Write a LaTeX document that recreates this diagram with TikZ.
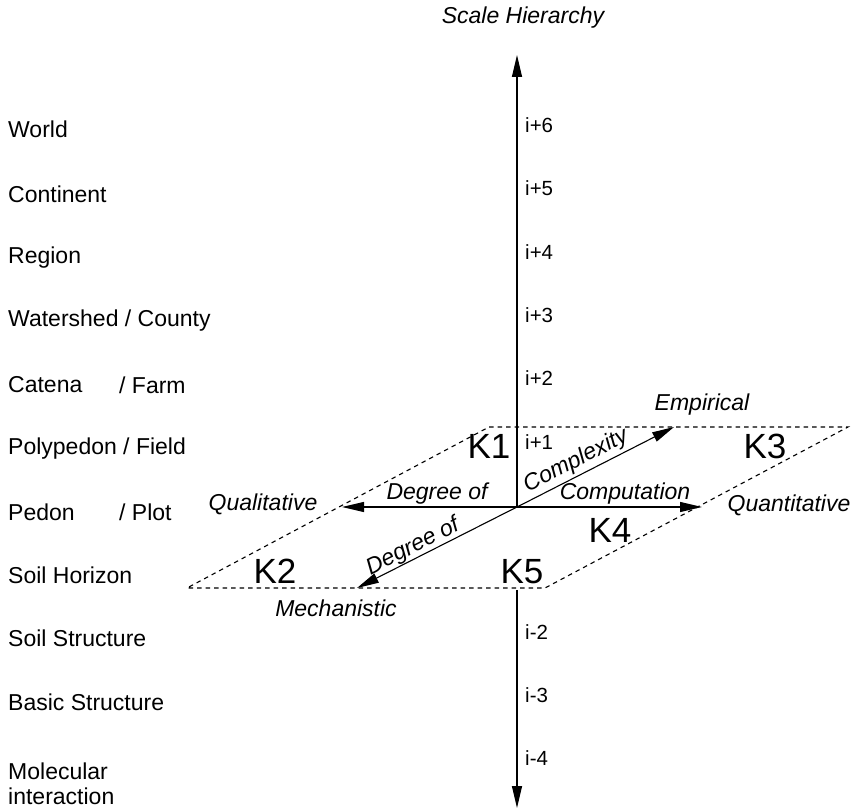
\documentclass[tikz,border=0pt]{standalone}
\usepackage{fontspec}
\setmainfont{Liberation Sans}
\usetikzlibrary{arrows.meta}

\begin{document}
\begin{tikzpicture}[x=1pt,y=-1pt,
  level/.style={font=\fontsize{23}{25}\selectfont, inner sep=0pt, anchor=west},
  idx/.style={font=\fontsize{20.5}{23}\selectfont, inner sep=0pt, anchor=west},
  pole/.style={font=\itshape\fontsize{23}{25}\selectfont, inner sep=0pt},
  klab/.style={font=\fontsize{35}{38}\selectfont, inner sep=0pt},
  axis/.style={line width=1.3pt, -{Triangle[length=22pt,width=10pt]}},
  plane/.style={line width=1.1pt, dash pattern=on 4.5pt off 4pt}]

\useasboundingbox (0,0) rectangle (852,810);

% axis end points and the model plane
\coordinate (c) at (517,507);
\coordinate (top) at (517,55);
\coordinate (bstart) at (517,590);
\coordinate (bot) at (517,808);
\coordinate (qual) at (342,507);
\coordinate (quant) at (702,507);
\coordinate (emp) at (674,427);
\coordinate (mech) at (357,588);
\coordinate (p1) at (489,427);
\coordinate (p2) at (848,427);
\coordinate (p3) at (545,588);
\coordinate (p4) at (187,588);

\draw[plane] (p1) -- (p2) -- (p3) -- (p4) -- cycle;

% scale hierarchy axis
\draw[axis] (c) -- (top);
\draw[axis] (bstart) -- (bot);
\node[pole] (sh) at (523,18) {Scale Hierarchy};

% degree of computation / complexity axes
\draw[axis, line width=1.1pt] (c) -- (qual);
\draw[axis, line width=1.1pt] (c) -- (quant);
\draw[axis, line width=1.1pt] (c) -- (emp);
\draw[axis, line width=1.1pt] (c) -- (mech);

\node[pole] (dg1) at (437,494) {Degree of};
\node[pole] (cmp) at (625,494) {Computation};
\node[pole, rotate=26.9] (cx) at (576,461) {Complexity};
\node[pole, rotate=26.9] (dg2) at (413,547) {Degree of};

\node[pole] (lq) at (263,504) {Qualitative};
\node[pole] (rq) at (789,505) {Quantitative};
\node[pole] (em) at (702,405) {Empirical};
\node[pole] (me) at (336,608) {Mechanistic};

% knowledge regions
\node[klab] (k1) at (489,446) {K1};
\node[klab] (k3) at (765,446) {K3};
\node[klab] (k4) at (610,530) {K4};
\node[klab] (k2) at (275,571) {K2};
\node[klab] (k5) at (522,572) {K5};

% hierarchy indices
\node[idx] (i6) at (525,125) {i+6};
\node[idx] (i5) at (525,188) {i+5};
\node[idx] (i4) at (525,252) {i+4};
\node[idx] (i3) at (525,315) {i+3};
\node[idx] (i2) at (525,378) {i+2};
\node[idx] (i1) at (525,442) {i+1};
\node[idx] (im2) at (525,632) {i-2};
\node[idx] (im3) at (525,695) {i-3};
\node[idx] (im4) at (525,758) {i-4};

% hierarchy levels
\node[level] (l6) at (8,129) {World};
\node[level] (l5) at (8,194) {Continent};
\node[level] (l4) at (8,258) {Region};
\node[level] (l3) at (8,321) {Watershed / County};
\node[level] (l2) at (8,385) {Catena};
\node[level] (l2b) at (119,385) {/ Farm};
\node[level] (l1) at (8,449) {Polypedon / Field};
\node[level] (l0) at (8,512) {Pedon};
\node[level] (l0b) at (119,512) {/ Plot};
\node[level] (lm1) at (8,575) {Soil Horizon};
\node[level] (lm2) at (8,638) {Soil Structure};
\node[level] (lm3) at (8,702) {Basic Structure};
\node[level, align=left] (lm4) at (8,784) {Molecular\\interaction};
\end{tikzpicture}
\end{document}
